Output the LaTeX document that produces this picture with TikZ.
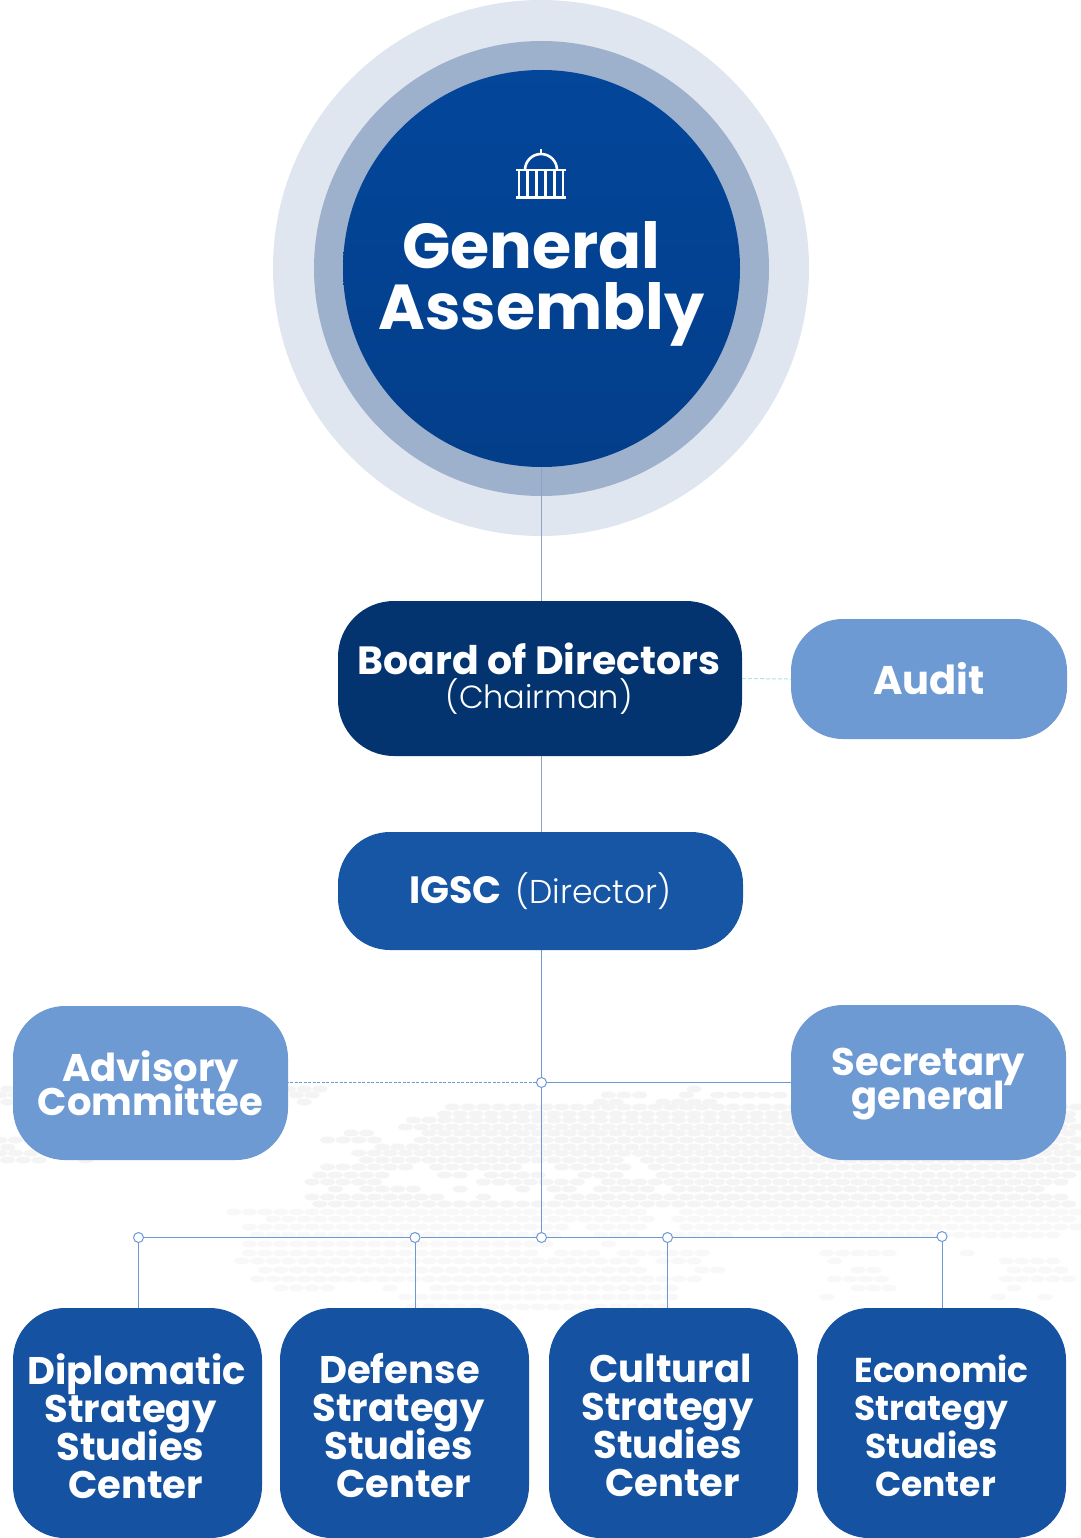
\documentclass[tikz,border=0pt]{standalone}
\usepackage{fontspec}
\setmainfont{Poppins}[UprightFont={* Light},BoldFont={* Bold}]
\usetikzlibrary{positioning,calc}
\definecolor{ringa}{HTML}{E0E6EF}
\definecolor{ringb}{HTML}{9DB0CC}
\definecolor{coretop}{HTML}{03469A}
\definecolor{corebot}{HTML}{033E8A}
\definecolor{boardc}{HTML}{03346F}
\definecolor{igscc}{HTML}{1756A5}
\definecolor{lightc}{HTML}{6E9AD4}
\definecolor{deepc}{HTML}{1552A1}
\definecolor{linec}{HTML}{6C99D3}
\definecolor{greyl}{HTML}{8AA5C7}
\definecolor{tealc}{HTML}{A5E5E5}
\definecolor{dota}{HTML}{F4F4F4}
\definecolor{dotb}{HTML}{F8F8F8}
\newcommand{\dotrows}[2]{%
  \foreach \yy/\rr in {#2}{%
    \pgfmathsetmacro\off{mod(round(\yy/7.3),2)*7.8}%
    \foreach \aa/\bb in \rr{%
      \pgfmathtruncatemacro\ii{ceil((\aa-\off)/15.6)}%
      \pgfmathtruncatemacro\jj{floor((\bb-\off)/15.6)}%
      \ifnum\ii>\jj\else
        \foreach \kk in {\ii,...,\jj}{%
          \fill[#1] ({\kk*15.6+\off},\yy) ellipse [x radius=7.6,y radius=3.5];%
        }%
      \fi
    }%
  }%
}
\newcommand{\sh}[2]{\hspace*{#1pt}#2}
\tikzset{
  boxbase/.style={rectangle,draw=none,inner sep=0pt,text=white,align=center,font=\bfseries,
    execute at begin node={\lineskiplimit=-200pt\lineskip=0pt\relax}},
  roundbox/.style={boxbase,rounded corners=52pt},
  junction/.style={circle,draw=linec,fill=white,line width=1pt,minimum size=10pt,inner sep=0pt},
  link/.style={draw=linec,line width=1pt},
  iconline/.style={draw=white,line width=2.6pt},
}
\begin{document}
\begin{tikzpicture}[x=1pt,y=-1pt]
\useasboundingbox (0,0) rectangle (1080,1538);
% dotted world map
\dotrows{dota}{1089/{0/30,288/323,683/697},1095/{0/20,293/315,605/652,683/698,714/790},1102/{0/30,293/315,592/623,654/716},
1107/{452/1078},1114/{436/1078},1120/{403/1078},1127/{403/1078},1133/{338/368,418/1078},1140/{0/20,320/385,417/1078},
1147/{0/20,320/333,368/1078},1153/{0/60,350/1078},1160/{0/50,83/100,366/630,647/1078},1167/{315/413,432/530,547/630,649/1078},
1175/{312/395,430/463,482/540,583/631,649/1078},1182/{312/378,482/581,599/650,654/1074},1189/{327/343,362/428,447/463,515/532,547/581,599/654,667/1043},
1197/{308/445,480/497,549/1064},1204/{306/1070}}
\dotrows{dotb}{1212/{234/654,673/1078},1219/{267/654,673/1078},1227/{247/570,586/654,676/1078},1235/{245/558,586/640,667/730,785/1060},
1244/{243/560,605/622},1253/{240/540,550/605,624/716,826/899,954/971},1261/{238/645,654/699,828/847,992/1067},
1270/{253/645,702/720,849/885,1000/1067},1279/{252/702,833/888,1005/1078},1288/{268/343,383/400,425/685,855/892,1007/1024},
1297/{400/685,821/838,992/1009,1030/1047},1307/{400/667}}
% circles
\node[circle,fill=ringa,minimum size=536pt,inner sep=0pt] (outer) at (541,268) {};
\node[circle,fill=ringb,minimum size=455pt,inner sep=0pt] (middle) at (541.5,268.5) {};
\node[circle,top color=coretop,bottom color=corebot,minimum size=397pt,inner sep=0pt] (core) at (541.5,268.5) {};
\node[boxbase,font=\bfseries\fontsize{63.5}{61}\selectfont] (gatext) at (541.5,283.5) {\sh{-20}{General}\\Assembly};
% icon
\draw[iconline] (525,170) arc[start angle=180,end angle=360,radius=16];
\draw[iconline] (541,149) -- (541,154);
\draw[iconline] (516,170) -- (566,170);
\draw[iconline] (516,197.5) -- (566,197.5);
\foreach \cx in {519,527.5,536.5,545.5,554.5,563}{\draw[draw=white,line width=2.4pt] (\cx,170) -- (\cx,197);}
% boxes
\node[roundbox,fill=boardc,minimum width=404pt,minimum height=155pt,rounded corners=56pt] (board) at (540,678.5) {};
\node[boxbase,font=\fontsize{32}{34}\selectfont] (boardtext) at (539,678.5) {\fontsize{39.4}{34}\selectfont\textbf{Board of Directors}\\\mdseries(Chairman)};
\node[roundbox,fill=lightc,minimum width=276pt,minimum height=120pt,font=\bfseries\fontsize{40}{38}\selectfont] (audit) at (929,679) {Audit};
\node[roundbox,fill=igscc,minimum width=405pt,minimum height=118pt] (igsc) at (540.5,891) {\raisebox{-1.5pt}{\fontsize{38}{38}\selectfont IGSC \fontsize{33}{34}\selectfont\mdseries\,(Director)}};
\node[roundbox,fill=lightc,minimum width=275pt,minimum height=154pt] (advisory) at (150.5,1083) {};
\node[boxbase,font=\bfseries\fontsize{38.5}{34}\selectfont] (advisorytext) at (150.5,1083) {Advisory\\Committee};
\node[roundbox,fill=lightc,minimum width=275pt,minimum height=155pt] (secretary) at (928.5,1082.5) {};
\node[boxbase,font=\bfseries\fontsize{38.5}{34}\selectfont] (secretarytext) at (928.5,1084.5) {Secretary\\general};
\node[roundbox,fill=deepc,minimum width=249pt,minimum height=230pt] (c1) at (137.5,1423) {};
\node[roundbox,fill=deepc,minimum width=249pt,minimum height=230pt] (c2) at (404.5,1423) {};
\node[roundbox,fill=deepc,minimum width=249pt,minimum height=230pt] (c3) at (673.5,1423) {};
\node[roundbox,fill=deepc,minimum width=249pt,minimum height=230pt] (c4) at (941.5,1423) {};
\node[boxbase,font=\bfseries\fontsize{38.5}{38}\selectfont] (t1) at (137.5,1426) {\sh{-2}{Diplomatic}\\\sh{-14}{Strategy}\\\sh{-14}{Studies}\\\sh{-4}{Center}};
\node[boxbase,font=\bfseries\fontsize{38.5}{38}\selectfont] (t2) at (404.5,1426) {\sh{-10}{Defense}\\\sh{-12}{Strategy}\\\sh{-12}{Studies}\\\sh{-2}{Center}};
\node[boxbase,font=\bfseries\fontsize{38.5}{38}\selectfont] (t3) at (673.5,1425) {\sh{-6}{Cultural}\\\sh{-12}{Strategy}\\\sh{-12}{Studies}\\\sh{-2}{Center}};
\node[boxbase,font=\bfseries\fontsize{34.5}{38}\selectfont] (t4) at (941.5,1426) {Economic\\\sh{-20}{Strategy}\\\sh{-20}{Studies}\\\sh{-12}{Center}};
% junctions
\node[junction] (jmid) at (541.5,1082.5) {};
\node[junction] (jcen) at (541.5,1237.5) {};
\node[junction] (ja) at (138.5,1237.5) {};
\node[junction] (jb) at (415,1237.5) {};
\node[junction] (jc) at (667.5,1237.5) {};
\node[junction] (jd) at (942,1236.5) {};
% connectors
\draw[draw=greyl,line width=1pt] (core.south) -- (board.north -| core.south);
\draw[draw=greyl,line width=1pt] (board.south -| core.south) -- (igsc.north -| core.south);
\draw[draw=tealc,line width=1pt,dash pattern=on 4pt off 2pt] (board.east) -- (audit.west);
\draw[link] (igsc.south -| jmid) -- (jmid);
\draw[link] (jmid) -- (jcen);
\draw[link] (jmid) -- (jmid -| secretary.west);
\draw[link,dash pattern=on 3pt off 1.5pt] (jmid) -- (jmid -| advisory.east);
\draw[link] (ja) -- (jb);
\draw[link] (jb) -- (jcen);
\draw[link] (jcen) -- (jc);
\draw[link] (jc) -- (jc -| jd.west);
\draw[link] (ja) -- (ja |- c1.north);
\draw[link] (jb) -- (jb |- c2.north);
\draw[link] (jc) -- (jc |- c3.north);
\draw[link] (jd) -- (jd |- c4.north);
\end{tikzpicture}
\end{document}
